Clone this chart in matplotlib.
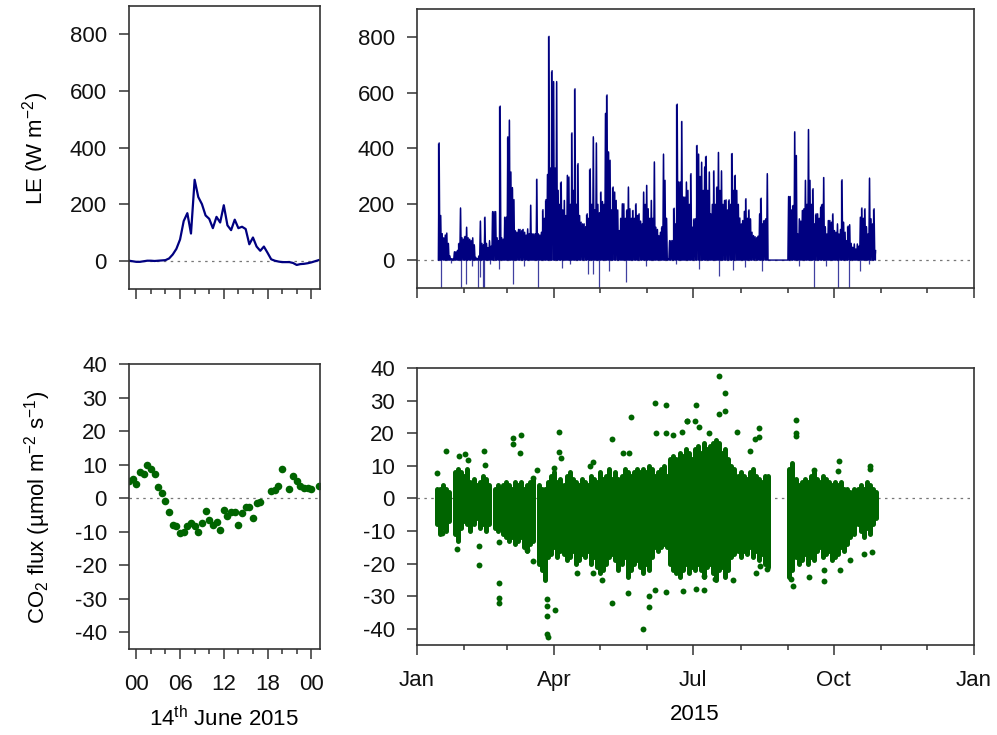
import numpy as np
import pandas as pd
import matplotlib
matplotlib.use('Agg')
import matplotlib.pyplot as plt
from matplotlib.ticker import MultipleLocator, FixedLocator, NullFormatter

plt.rcParams['font.family'] = ['Liberation Sans', 'DejaVu Sans']
plt.rcParams['mathtext.fontset'] = 'custom'
plt.rcParams['mathtext.rm'] = 'Liberation Sans'
plt.rcParams['mathtext.it'] = 'Liberation Sans:italic'
plt.rcParams['mathtext.default'] = 'regular'
plt.rcParams['axes.unicode_minus'] = False

# --- diurnal course, 14 June 2015 (hours from midnight, half-hourly) ---
le_hour = np.arange(-1, 25.01, 0.5)
le_day_vals = [0, -2, -4, -4, -2, 0, 0, -1, 0, 1,
               2, 8, 22, 42, 75, 140, 168, 96, 286, 225,
               200, 160, 148, 115, 155, 135, 196, 125, 108, 145,
               115, 120, 112, 58, 82, 50, 35, 50, 28, 5,
               0, -3, -5, -5, -5, -8, -15, -12, -11, -9,
               -6, -2, 2]

co2_hour = [-1, -0.5, 0, 0.5, 1, 1.5, 2, 2.5, 3, 3.5,
            4, 4.5, 5, 5.5, 6, 6.5, 7, 7.5, 8, 8.5,
            9, 9.5, 10, 10.5, 11, 11.5, 12, 12.5, 13, 13.5,
            14, 14.5, 15, 15.5, 16, 16.5, 17, 18.5, 19, 19.5,
            20, 21, 21.5, 22, 22.5, 23, 23.5, 24, 25]
co2_day_vals = [5.1, 5.8, 4.1, 7.9, 7.1, 10.0, 8.7, 7.1, 3.3, 1.6,
                -1.0, -4.1, -8.0, -8.2, -10.3, -10.1, -8.4, -7.4, -8.3, -10.1,
                -7.5, -3.8, -6.5, -8.1, -7.0, -9.5, -3.6, -5.4, -4.2, -4.0,
                -8.0, -4.3, -2.6, -2.6, -6.0, -1.5, -1.3, 2.2, 2.3, 3.6,
                8.7, 2.7, 6.5, 5.2, 3.5, 3.0, 2.9, 2.7, 3.5]

# --- whole year 2015: daily maximum LE, starting on day-of-year 14 ---
le_first_day = 14
le_hi = [420, 160, 95, 80, 90, 97, 60, 15, 5, 5,          # 14
         30, 30, 35, 60, 187, 80, 75, 85, 118, 80,        # 24
         75, 70, 80, 55, 10, 5, 15, 140, 60, 55,          # 34
         154, 60, 45, 70, 50, 174, 174, 174, 80, 70,      # 44
         552, 80, 75, 154, 154, 442, 502, 316, 260, 217,  # 54
         105, 100, 110, 110, 105, 110, 100, 90, 112, 95,  # 64
         197, 94, 94, 94, 290, 94, 90, 100, 181, 150,     # 74
         217, 307, 802, 330, 679, 640, 330, 640, 250, 200,  # 84
         280, 180, 214, 160, 304, 298, 200, 456, 250, 614,  # 94
         200, 346, 160, 136, 130, 130, 120, 166, 150, 327,  # 104
         200, 442, 180, 420, 200, 170, 244, 210, 200, 526,  # 114
         592, 388, 358, 180, 262, 244, 214, 180, 106, 150,  # 124
         202, 202, 150, 180, 262, 184, 150, 178, 150, 202,  # 134
         160, 166, 140, 130, 244, 200, 268, 184, 150, 214,  # 144
         150, 352, 118, 110, 88, 100, 120, 380, 286, 150,   # 154
         5, 70, 70, 70, 186, 130, 559, 280, 280, 497,       # 164
         226, 226, 280, 250, 200, 310, 118, 148, 148, 411,  # 174
         380, 300, 351, 250, 334, 372, 250, 316, 166, 200,  # 184
         320, 200, 262, 386, 250, 320, 200, 214, 216, 180,  # 194
         216, 200, 382, 250, 304, 250, 200, 151, 130, 142,  # 204
         175, 220, 150, 180, 148, 100, 88, 84, 80, 86,      # 214
         166, 222, 130, 142, 148, 310, 0, 0, 0, 0,          # 224
         0, 0, 0, 0, 0, 0, 0, 0, 0, 228,                    # 234
         228, 180, 196, 460, 375, 94, 148, 140, 178, 184,   # 244
         286, 200, 468, 286, 200, 256, 130, 166, 166, 150,  # 254
         190, 200, 296, 120, 94, 142, 142, 136, 166, 106,   # 264
         100, 130, 94, 110, 288, 136, 100, 70, 122, 127,    # 274
         60, 46, 58, 40, 58, 50, 154, 187, 150, 184,        # 284
         120, 94, 294, 148, 130, 184, 34]                   # 294

# negative LE excursions (day-of-year, value)
le_dip_day = [16, 22, 29, 32, 36, 40, 41, 43, 44, 48, 54, 63, 70, 79, 95, 100,
              112, 115, 119, 126, 137, 150, 170, 185, 198, 207, 215, 226, 250,
              260, 268, 276, 283, 290, 296]
le_dip_val = [-100, -10, -100, -85, -20, -100, -60, -100, -100, -15, -32, -86, -20,
              -100, -30, -15, -50, -50, -100, -40, -80, -20, -15, -32, -56, -35,
              -25, -40, -20, -100, -20, -100, -100, -40, -15]

# CO2 flux: dense range of half-hourly values (day-of-year, low, high)
co2_day = [13, 15, 17, 19, 21, 25, 27, 29, 31, 33, 35, 37, 39, 41, 43, 45, 47,
           51, 53, 56, 58, 60, 62, 64, 66, 68, 70, 72, 74, 76,
           80, 82, 84, 86, 88, 90, 92, 94, 96, 98, 100, 102, 104, 106, 108, 110,
           112, 114, 116, 118, 120, 122, 124, 126, 128, 130, 132, 134, 136, 138,
           140, 142, 144, 146, 148, 150, 152, 154, 156, 158, 160, 162, 164, 166,
           168, 170, 172, 174, 176, 178, 180, 182, 184, 186, 188, 190, 192, 194,
           196, 198, 200, 202, 204, 206, 208, 210, 212, 214, 216, 218, 220, 222,
           224, 226, 228, 230,
           244, 246, 248, 250, 252, 254, 256, 258, 260, 262, 264,
           266, 268, 270, 272, 274, 276, 278, 280, 282, 284, 286,
           289, 291, 293, 295, 297, 299, 301]
co2_lo = [-8, -11, -9, -10, -7, -11, -13, -9, -7, -8, -10, -8, -6, -9, -8, -10, -8,
          -9, -10, -11, -12, -13, -12, -14, -13, -12, -15, -16, -14, -13,
          -20, -22, -25, -18, -17, -15, -18, -16, -17, -19, -18, -16, -20, -19, -17, -18,
          -16, -20, -18, -21, -23, -22, -20, -18, -17, -19, -22, -20, -18, -24,
          -22, -20, -19, -21, -23, -20, -22, -18, -15, -16, -15, -14, -15, -20,
          -22, -23, -24, -22, -20, -23, -21, -22, -20, -22, -24, -21, -20, -23,
          -25, -22, -21, -24, -22, -18, -17, -16, -18, -16, -17, -15, -18, -16,
          -19, -17, -20, -21,
          -24, -22, -18, -20, -19, -17, -20, -18, -19, -16, -15,
          -18, -17, -16, -19, -18, -17, -15, -16, -14, -12, -11,
          -8, -10, -12, -9, -11, -8, -6]
co2_hi = [3, 3, 4, 3, 2, 8, 9, 8, 7, 9, 5, 6, 4, 5, 7, 6, 4,
          3, 4, 4, 5, 4, 3, 5, 4, 5, 3, 4, 5, 6,
          4, 3, 3, 5, 7, 8, 5, 6, 4, 7, 8, 6, 5, 4, 6, 5,
          4, 7, 6, 5, 8, 6, 7, 9, 6, 8, 6, 7, 9, 8,
          7, 8, 9, 8, 9, 8, 10, 9, 7, 8, 9, 10, 7, 12,
          13, 12, 14, 13, 15, 14, 12, 15, 16, 14, 17, 15, 16, 17,
          18, 17, 14, 15, 12, 10, 9, 7, 8, 7, 6, 8, 9, 7,
          6, 5, 7, 7,
          9, 11, 6, 4, 5, 6, 5, 7, 8, 6, 5,
          7, 6, 5, 4, 5, 4, 5, 3, 3, 2, 3,
          3, 4, 3, 5, 4, 3, 2]

# scattered CO2 values outside the dense range
co2_out_day = [13.3, 19, 16.2, 27.7, 31.4, 26, 33.6, 43.9, 44.5, 40.8, 40.6,
               53.9, 53.9, 53.9, 53.9, 62.7, 62.7, 67.9, 67.5, 76.2, 78.4, 71.8, 75.8,
               84.9, 84.9, 84.9, 84.9, 85.6, 90.4, 89.5, 93, 93, 94.1,
               105, 115, 121, 127.5, 138.2, 148.3, 152.2, 152.2, 156.1, 162.9, 174,
               113.3, 115.5, 127.5, 140, 134.7, 139, 155.9, 162.9, 156.5, 162.9,
               173.4, 176.6, 167.9,
               197.8, 201.7, 182.5, 177.1, 182.1, 201.7, 197.8, 184.5, 191.5, 209.8,
               224.2, 221.4, 224.2, 218.1, 182.8, 188, 188, 195.2, 207.2, 222,
               229.4, 224.7, 246.1, 245, 248.2, 248.2, 248.2, 260, 257, 276.2, 276,
               266.8, 266.8, 277.1, 284, 296.7, 296.7, 292.8, 297.8]
co2_out_val = [7.8, 14.6, -10.6, 13, 13.7, -15.5, 11.8, 14.4, 10.3, -14.7, -20.5,
               -13.4, -26, -30.5, -32, 18.4, 16.7, 19.4, 13.9, 6.2, 8.8, -15.7, -19.3,
               -31, -33, -36, -41.7, -42.5, -34.3, 9.3, 20.3, 14.3, 12.3,
               -22.9, -22.9, -25, -32, -29, -40.2, -30, -33.4, -28, -28.8, -28.5,
               9.8, 11.3, 18.2, 25.1, 13.9, 13.9, 29.2, 28.7, 20, 20,
               20.5, 23.8, 19.5,
               37.6, 32.2, 28.5, 23.8, 23.8, 26.9, 25.9, 21.8, 20, 20.3,
               21.7, 18.3, 18.8, 14.4, -27.8, -28.2, -23.9, -24.7, -24.9, -22.9,
               -21.8, -20.8, -26.9, -24.7, 24.1, 20.2, 19.2, 8.8, -24.2, 11.6, 8.3,
               -25.4, -22, -22.1, -19, 10, 9, -17.2, -16.5]

le_color = '#000080'
co2_color = '#006400'
axis_color = '#333333'

month_starts = pd.date_range('2015-01-01', '2016-01-01', freq='MS')
month_pos = (month_starts - pd.Timestamp('2015-01-01')).days.values
quarter_pos = month_pos[::3]
quarter_lab = ['Jan', 'Apr', 'Jul', 'Oct', 'Jan']


def style(ax):
    for s in ax.spines.values():
        s.set_color(axis_color)
        s.set_linewidth(1.2)
    ax.tick_params(which='major', length=7, width=1.1, color=axis_color,
                   labelsize=16, pad=9, labelcolor='#111111')
    ax.tick_params(which='minor', length=3.5, width=1.1, color=axis_color)
    ax.axhline(0, color='#777777', lw=0.9, ls=(0, (2, 3.5)), zorder=0)


fig = plt.figure(figsize=(9.97, 7.35), dpi=100)
ax1 = fig.add_axes([0.1294, 0.6068, 0.1916, 0.3850])
ax2 = fig.add_axes([0.4183, 0.6082, 0.5587, 0.3796])
ax3 = fig.add_axes([0.1294, 0.1170, 0.1916, 0.3878])
ax4 = fig.add_axes([0.4183, 0.1224, 0.5587, 0.3769])

# diurnal LE
ax1.plot(le_hour, le_day_vals, color=le_color, lw=1.6)
ax1.set_ylim(-100, 900)
ax1.set_yticks([0, 200, 400, 600, 800])

# yearly LE: each day rises from the night-time base to its maximum
le_days = np.arange(le_first_day, le_first_day + len(le_hi))
trace_x = np.column_stack([le_days, le_days + 0.5]).ravel()
trace_y = np.column_stack([np.zeros(len(le_hi)), le_hi]).ravel()
ax2.plot(trace_x, trace_y, color=le_color, lw=1.0)
ax2.vlines(le_days, 0, le_hi, color=le_color, lw=0.9)
ax2.vlines(le_dip_day, le_dip_val, 0, color=le_color, lw=0.9, alpha=0.75)
ax2.set_ylim(-100, 900)
ax2.set_yticks([0, 200, 400, 600, 800])

# diurnal CO2
ax3.scatter(co2_hour, co2_day_vals, s=30, color=co2_color, lw=0)
ax3.set_ylim(-45, 40)
ax3.set_yticks(range(-40, 41, 10))

# yearly CO2
core = ax4.vlines(co2_day, co2_lo, co2_hi, color=co2_color, lw=3.6)
core.set_capstyle('round')
ax4.scatter(co2_out_day, co2_out_val, s=18, color=co2_color, lw=0)
ax4.set_ylim(-45, 40)
ax4.set_yticks(range(-40, 41, 10))

for ax in (ax1, ax3):
    style(ax)
    ax.set_xlim(-1, 25.2)
    ax.xaxis.set_major_locator(FixedLocator([0, 6, 12, 18, 24]))
    ax.xaxis.set_minor_locator(MultipleLocator(2))
    ax.set_xticklabels(['00', '06', '12', '18', '00'])

for ax in (ax2, ax4):
    style(ax)
    ax.set_xlim(0, 365)
    ax.xaxis.set_major_locator(FixedLocator(quarter_pos))
    ax.xaxis.set_minor_locator(FixedLocator(month_pos))
    ax.xaxis.set_minor_formatter(NullFormatter())
    ax.set_xticklabels(quarter_lab)

for ax in (ax1, ax2):
    ax.tick_params(labelbottom=False)
for ax in (ax3, ax4):
    ax.tick_params(axis='x', pad=11)

fig.text(36 / 997, 1 - 148 / 735, 'LE (W m$^{-2}$)', rotation=90,
         ha='center', va='center', fontsize=16)
fig.text(38 / 997, 1 - 507 / 735, 'CO$_2$ flux (µmol m$^{-2}$ s$^{-1}$)',
         rotation=90, ha='center', va='center', fontsize=16)
fig.text(224 / 997, 1 - 719 / 735, '14$^{th}$ June 2015', ha='center',
         va='center', fontsize=16)
fig.text(695 / 997, 1 - 715 / 735, '2015', ha='center', va='center', fontsize=16)

fig.savefig('out.png', dpi=100)
